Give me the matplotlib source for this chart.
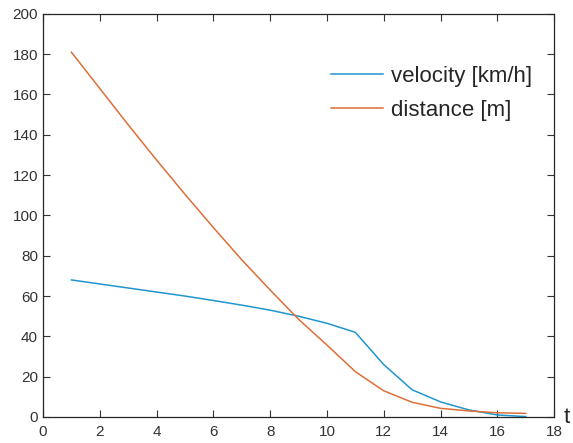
import matplotlib
matplotlib.use("Agg")
import matplotlib.pyplot as plt

plt.rcParams["font.family"] = ["Liberation Sans", "DejaVu Sans"]

t = [1, 2, 3, 4, 5, 6, 7, 8, 9, 10, 11, 12, 13, 14, 15, 16, 17]
velocity = [68, 66, 64, 62, 60, 57.8, 55.5, 53, 50, 46.5, 42, 26, 13.5, 7.5, 3.5, 1, 0.2]
distance = [181, 163, 145, 127.5, 110.5, 94, 78, 63, 48.5, 35.7, 22.5, 13, 7.3, 4.3, 3, 2.1, 1.8]

x_ticks = [0, 2, 4, 6, 8, 10, 12, 14, 16, 18]
y_ticks = [0, 20, 40, 60, 80, 100, 120, 140, 160, 180, 200]

fig = plt.figure(figsize=(5.73, 4.43), dpi=100)
ax = fig.add_axes([0.075, 0.0587, 0.892, 0.91])

ax.plot(t, velocity, color="#1f96cf", linewidth=1.1, label="velocity [km/h]")
ax.plot(t, distance, color="#dd6f38", linewidth=1.1, label="distance [m]")

ax.set_xlim(0, 18)
ax.set_ylim(0, 200)
ax.set_xticks(x_ticks)
ax.set_yticks(y_ticks)

ax.tick_params(direction="in", length=5, width=0.8, top=True, right=True,
               labelsize=11, colors="#333333")
ax.tick_params(axis="x", pad=6)
for s in ax.spines.values():
    s.set_color("#262626")
    s.set_linewidth(0.9)

ax.set_xlabel("t", fontsize=16, color="#262626")
ax.xaxis.set_label_coords(1.025, 0.025)

# legend without a frame, placed in the upper right area
leg = ax.legend(loc="upper left", bbox_to_anchor=(0.564, 0.871), frameon=False,
                borderpad=0, borderaxespad=0, fontsize=16, handlelength=2.35,
                handletextpad=0.32, labelspacing=0.6)
for txt in leg.get_texts():
    txt.set_color("#262626")

fig.savefig("out.png", dpi=100)
